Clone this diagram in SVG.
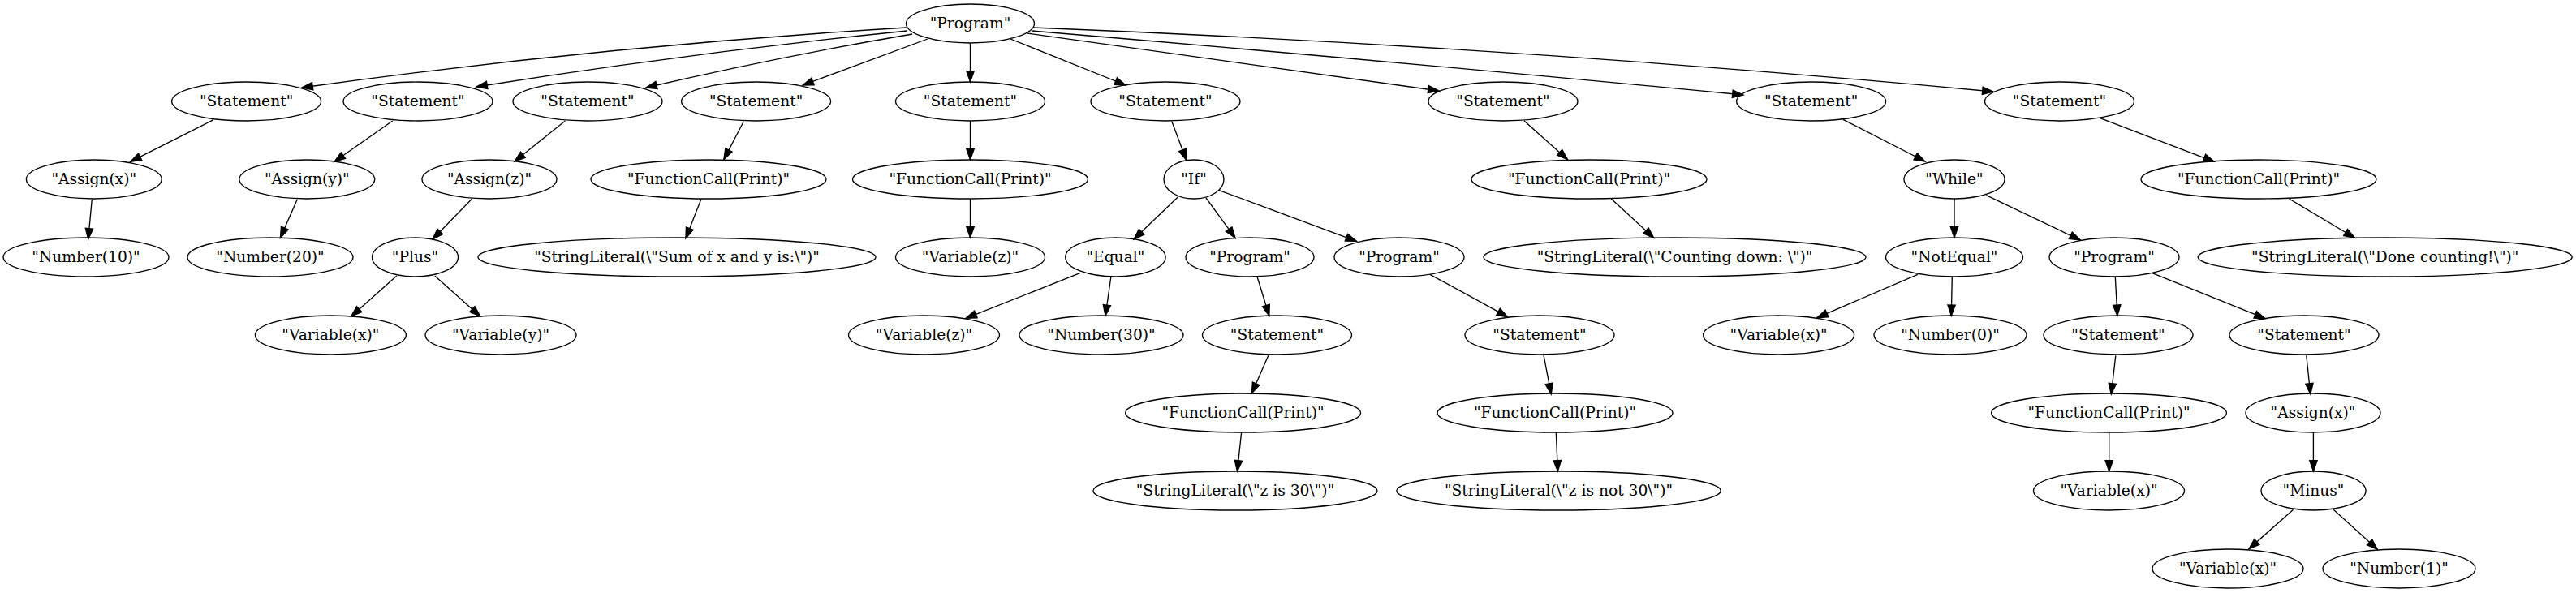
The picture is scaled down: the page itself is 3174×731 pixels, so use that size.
<svg xmlns="http://www.w3.org/2000/svg" width="3174" height="731" viewBox="0 0 3174 731">
<style>
.n ellipse{fill:none;stroke:#000;stroke-width:1.33}
.n text{font-family:"DejaVu Serif","Liberation Serif",serif;font-size:18.67px;text-anchor:middle;fill:#000}
#edges path{fill:none;stroke:#000;stroke-width:1.33;marker-end:url(#arr)}
</style>
<defs>
<marker id="arr" markerWidth="14" markerHeight="10" refX="13.33" refY="4.67" orient="auto" markerUnits="userSpaceOnUse" overflow="visible"><path d="M0,0 L13.33,4.67 L0,9.33 z" fill="#000" stroke="#000" stroke-width="1.33"/></marker>
</defs>
<rect width="3174" height="731" fill="#fff"/>
<g id="edges">
<path d="M1117,34 Q744.5,56.4 372,108"/>
<path d="M1118,38 Q852.5,64.9 587,107"/>
<path d="M1124,42 Q959,70 796,108"/>
<path d="M1143,48 L989,105"/>
<path d="M1195.5,53 L1195.5,101"/>
<path d="M1245,48 L1387,105"/>
<path d="M1266,41 L1773,112"/>
<path d="M1271,38 Q1711,75 2148,117"/>
<path d="M1273,34 Q1865.5,57.5 2456,113"/>
<path d="M262.8,147.7 L160.7,199.3"/>
<path d="M483.7,149 L412,199.3"/>
<path d="M696.4,149 L634,199"/>
<path d="M113.3,245.7 L108.7,295"/>
<path d="M366.3,245.7 L345.4,293.3"/>
<path d="M581.6,245 L533,295"/>
<path d="M488.8,340 L432.7,390"/>
<path d="M535.7,340 L591.8,390"/>
<path d="M916.3,149.7 L891.8,196.7"/>
<path d="M863.8,245.7 L844.9,294"/>
<path d="M1195.5,149 L1195.5,197"/>
<path d="M1195.5,245 L1195.5,293"/>
<path d="M1443.9,149.7 L1461.7,197.3"/>
<path d="M1451.5,242.7 L1397,295"/>
<path d="M1486,244 L1522,293.3"/>
<path d="M1501.5,234.3 L1671.4,297.3"/>
<path d="M1330.6,336.7 L1190,392.3"/>
<path d="M1368.9,341 L1362,389.3"/>
<path d="M1549,341 L1563.8,389.3"/>
<path d="M1762,338.3 L1857.7,390.7"/>
<path d="M1878,149 L1931.6,196.7"/>
<path d="M1985.2,245 L2037.8,293.3"/>
<path d="M2271,147.3 L2372,199"/>
<path d="M2408,245 L2408,293"/>
<path d="M2447.3,240.7 L2563.3,296"/>
<path d="M2587.6,145.7 L2728.4,199.3"/>
<path d="M2820.5,245 L2901.5,293.3"/>
<path d="M2362.8,338.3 L2238.8,391.7"/>
<path d="M2405.3,341 L2404.3,389.3"/>
<path d="M2606.3,341 L2608.9,389.3"/>
<path d="M2651.9,336.7 L2791.1,392.7"/>
<path d="M1562.8,438.3 L1542.3,485"/>
<path d="M1529.6,533.3 L1524.5,581"/>
<path d="M1902,437.7 L1911.2,486"/>
<path d="M1917.3,533.3 L1919.4,581"/>
<path d="M2606.8,438.3 L2601.3,486"/>
<path d="M2598.7,533.3 L2598.7,581"/>
<path d="M2841.8,438.3 L2846.8,486"/>
<path d="M2850.4,533.3 L2850.4,581"/>
<path d="M2825.6,628.3 L2770.9,676.7"/>
<path d="M2875.2,628.3 L2929.4,677.3"/>
</g>
<g id="n0" class="n"><ellipse cx="1195.5" cy="29" rx="79" ry="24"/><text x="1195.5" y="34.6">"Program"</text></g>
<g id="n1" class="n"><ellipse cx="303.6" cy="125" rx="92" ry="24"/><text x="303.6" y="130.6">"Statement"</text></g>
<g id="n2" class="n"><ellipse cx="515" cy="125" rx="92" ry="24"/><text x="515" y="130.6">"Statement"</text></g>
<g id="n3" class="n"><ellipse cx="724" cy="125" rx="92" ry="24"/><text x="724" y="130.6">"Statement"</text></g>
<g id="n4" class="n"><ellipse cx="931.6" cy="125" rx="92" ry="24"/><text x="931.6" y="130.6">"Statement"</text></g>
<g id="n5" class="n"><ellipse cx="1195.5" cy="125" rx="92" ry="24"/><text x="1195.5" y="130.6">"Statement"</text></g>
<g id="n6" class="n"><ellipse cx="1436" cy="125" rx="92" ry="24"/><text x="1436" y="130.6">"Statement"</text></g>
<g id="n7" class="n"><ellipse cx="1852" cy="125" rx="92" ry="24"/><text x="1852" y="130.6">"Statement"</text></g>
<g id="n8" class="n"><ellipse cx="2231.6" cy="125" rx="92" ry="24"/><text x="2231.6" y="130.6">"Statement"</text></g>
<g id="n9" class="n"><ellipse cx="2537.5" cy="125" rx="92" ry="24"/><text x="2537.5" y="130.6">"Statement"</text></g>
<g id="n10" class="n"><ellipse cx="115.8" cy="221" rx="83.4" ry="24"/><text x="115.8" y="226.6">"Assign(x)"</text></g>
<g id="n11" class="n"><ellipse cx="378.3" cy="221" rx="83.4" ry="24"/><text x="378.3" y="226.6">"Assign(y)"</text></g>
<g id="n12" class="n"><ellipse cx="603" cy="221" rx="83" ry="24"/><text x="603" y="226.6">"Assign(z)"</text></g>
<g id="n13" class="n"><ellipse cx="873" cy="221" rx="145" ry="24"/><text x="873" y="226.6">"FunctionCall(Print)"</text></g>
<g id="n14" class="n"><ellipse cx="1195.5" cy="221" rx="145" ry="24"/><text x="1195.5" y="226.6">"FunctionCall(Print)"</text></g>
<g id="n15" class="n"><ellipse cx="1471" cy="221" rx="37" ry="24"/><text x="1471" y="226.6">"If"</text></g>
<g id="n16" class="n"><ellipse cx="1958" cy="221" rx="145" ry="24"/><text x="1958" y="226.6">"FunctionCall(Print)"</text></g>
<g id="n17" class="n"><ellipse cx="2408" cy="221" rx="62" ry="24"/><text x="2408" y="226.6">"While"</text></g>
<g id="n18" class="n"><ellipse cx="2783" cy="221" rx="145" ry="24"/><text x="2783" y="226.6">"FunctionCall(Print)"</text></g>
<g id="n19" class="n"><ellipse cx="106" cy="317" rx="102" ry="24"/><text x="106" y="322.6">"Number(10)"</text></g>
<g id="n20" class="n"><ellipse cx="333" cy="317" rx="102" ry="24"/><text x="333" y="322.6">"Number(20)"</text></g>
<g id="n21" class="n"><ellipse cx="511.5" cy="317" rx="53" ry="24"/><text x="511.5" y="322.6">"Plus"</text></g>
<g id="n22" class="n"><ellipse cx="834" cy="317" rx="245" ry="24"/><text x="834" y="322.6">"StringLiteral(\"Sum of x and y is:\")"</text></g>
<g id="n23" class="n"><ellipse cx="1195.5" cy="317" rx="92" ry="24"/><text x="1195.5" y="322.6">"Variable(z)"</text></g>
<g id="n24" class="n"><ellipse cx="1374.4" cy="317" rx="61.7" ry="24"/><text x="1374.4" y="322.6">"Equal"</text></g>
<g id="n25" class="n"><ellipse cx="1540" cy="317" rx="79" ry="24"/><text x="1540" y="322.6">"Program"</text></g>
<g id="n26" class="n"><ellipse cx="1724" cy="317" rx="80" ry="24"/><text x="1724" y="322.6">"Program"</text></g>
<g id="n27" class="n"><ellipse cx="2063.5" cy="317" rx="235.5" ry="24"/><text x="2063.5" y="322.6">"StringLiteral(\"Counting down: \")"</text></g>
<g id="n28" class="n"><ellipse cx="2408" cy="317" rx="84.5" ry="24"/><text x="2408" y="322.6">"NotEqual"</text></g>
<g id="n29" class="n"><ellipse cx="2605" cy="317" rx="80" ry="24"/><text x="2605" y="322.6">"Program"</text></g>
<g id="n30" class="n"><ellipse cx="2938.7" cy="317" rx="230.5" ry="24"/><text x="2938.7" y="322.6">"StringLiteral(\"Done counting!\")"</text></g>
<g id="n31" class="n"><ellipse cx="407.4" cy="413" rx="93" ry="24"/><text x="407.4" y="418.6">"Variable(x)"</text></g>
<g id="n32" class="n"><ellipse cx="617" cy="413" rx="93" ry="24"/><text x="617" y="418.6">"Variable(y)"</text></g>
<g id="n33" class="n"><ellipse cx="1138.5" cy="413" rx="93" ry="24"/><text x="1138.5" y="418.6">"Variable(z)"</text></g>
<g id="n34" class="n"><ellipse cx="1357" cy="413" rx="101" ry="24"/><text x="1357" y="418.6">"Number(30)"</text></g>
<g id="n35" class="n"><ellipse cx="1573.5" cy="413" rx="92" ry="24"/><text x="1573.5" y="418.6">"Statement"</text></g>
<g id="n36" class="n"><ellipse cx="1897" cy="413" rx="92" ry="24"/><text x="1897" y="418.6">"Statement"</text></g>
<g id="n37" class="n"><ellipse cx="2191.6" cy="413" rx="93" ry="24"/><text x="2191.6" y="418.6">"Variable(x)"</text></g>
<g id="n38" class="n"><ellipse cx="2403" cy="413" rx="94" ry="24"/><text x="2403" y="418.6">"Number(0)"</text></g>
<g id="n39" class="n"><ellipse cx="2610" cy="413" rx="92" ry="24"/><text x="2610" y="418.6">"Statement"</text></g>
<g id="n40" class="n"><ellipse cx="2839" cy="413" rx="92" ry="24"/><text x="2839" y="418.6">"Statement"</text></g>
<g id="n41" class="n"><ellipse cx="1531.6" cy="509" rx="145" ry="24"/><text x="1531.6" y="514.6">"FunctionCall(Print)"</text></g>
<g id="n42" class="n"><ellipse cx="1916" cy="509" rx="145" ry="24"/><text x="1916" y="514.6">"FunctionCall(Print)"</text></g>
<g id="n43" class="n"><ellipse cx="2598.5" cy="509" rx="145" ry="24"/><text x="2598.5" y="514.6">"FunctionCall(Print)"</text></g>
<g id="n44" class="n"><ellipse cx="2850" cy="509" rx="83" ry="24"/><text x="2850" y="514.6">"Assign(x)"</text></g>
<g id="n45" class="n"><ellipse cx="1522" cy="605" rx="175" ry="24"/><text x="1522" y="610.6">"StringLiteral(\"z is 30\")"</text></g>
<g id="n46" class="n"><ellipse cx="1920.5" cy="605" rx="199.7" ry="24"/><text x="1920.5" y="610.6">"StringLiteral(\"z is not 30\")"</text></g>
<g id="n47" class="n"><ellipse cx="2598.5" cy="605" rx="93" ry="24"/><text x="2598.5" y="610.6">"Variable(x)"</text></g>
<g id="n48" class="n"><ellipse cx="2850.5" cy="605" rx="64.5" ry="24"/><text x="2850.5" y="610.6">"Minus"</text></g>
<g id="n49" class="n"><ellipse cx="2745" cy="701" rx="93" ry="24"/><text x="2745" y="706.6">"Variable(x)"</text></g>
<g id="n50" class="n"><ellipse cx="2956" cy="701" rx="94" ry="24"/><text x="2956" y="706.6">"Number(1)"</text></g>
</svg>
